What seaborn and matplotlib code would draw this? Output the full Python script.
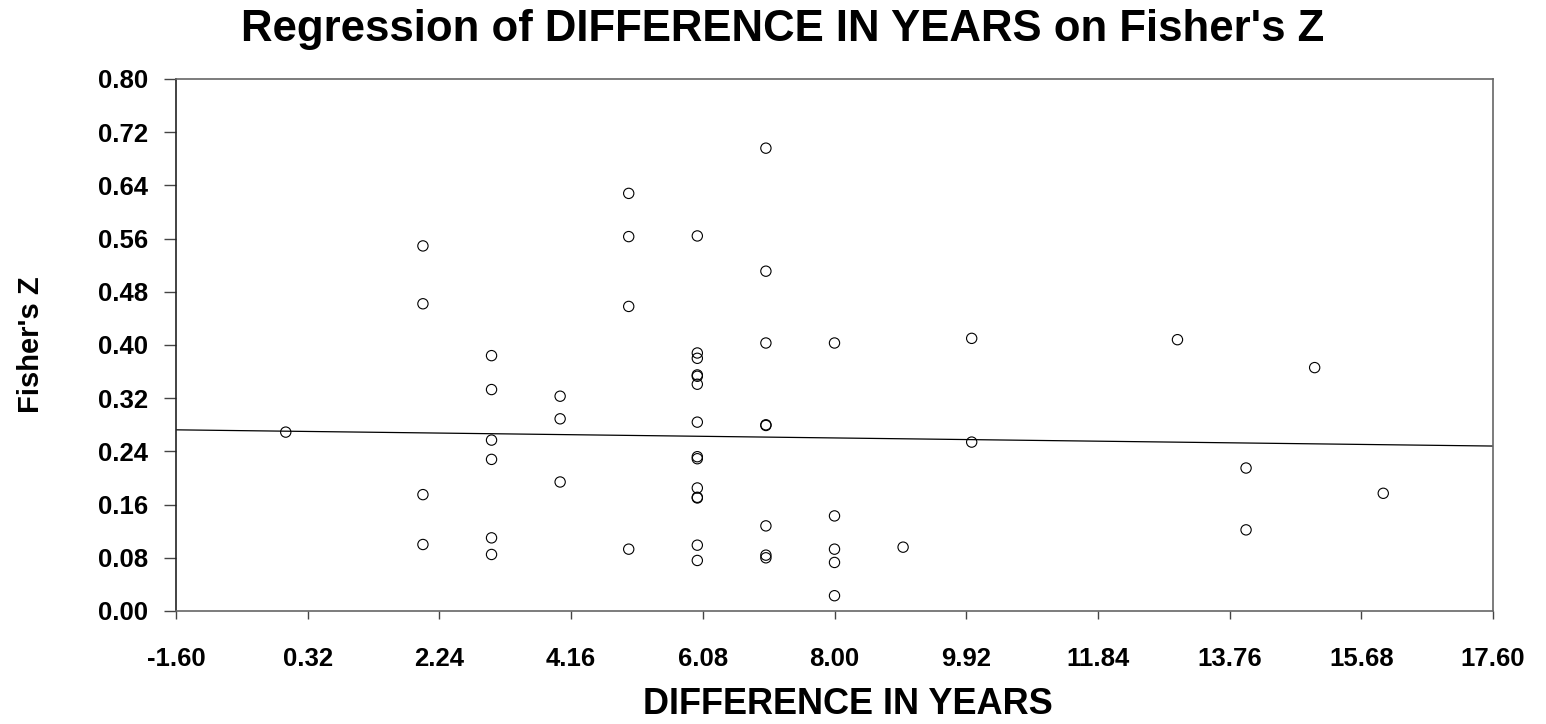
import numpy as np
import pandas as pd
import matplotlib
matplotlib.use("Agg")
import matplotlib.pyplot as plt
import seaborn as sns

# values (x = difference in years, y = Fisher's Z)
years = [0,
         2, 2, 2, 2,
         3, 3, 3, 3, 3, 3,
         4, 4, 4,
         5, 5, 5, 5,
         6, 6, 6, 6, 6, 6, 6, 6, 6, 6, 6, 6, 6, 6,
         7, 7, 7, 7, 7, 7, 7, 7,
         8, 8, 8, 8, 8,
         9,
         10, 10,
         13,
         14, 14,
         15,
         16]
fisher_z = [0.269,
            0.549, 0.462, 0.175, 0.100,
            0.384, 0.333, 0.257, 0.228, 0.110, 0.085,
            0.323, 0.289, 0.194,
            0.628, 0.563, 0.458, 0.093,
            0.564, 0.388, 0.380, 0.355, 0.353, 0.341, 0.284, 0.232, 0.229, 0.185, 0.171, 0.170, 0.099, 0.076,
            0.696, 0.511, 0.403, 0.280, 0.279, 0.128, 0.084, 0.080,
            0.403, 0.143, 0.093, 0.073, 0.023,
            0.096,
            0.410, 0.254,
            0.408,
            0.215, 0.122,
            0.366,
            0.177]

# fitted line as shown in the reference (weighted fit)
fit_intercept = 0.2704
fit_slope = -0.00127

xticks = [-1.60, 0.32, 2.24, 4.16, 6.08, 8.00, 9.92, 11.84, 13.76, 15.68, 17.60]
yticks = [0.00, 0.08, 0.16, 0.24, 0.32, 0.40, 0.48, 0.56, 0.64, 0.72, 0.80]

df = pd.DataFrame({"years": years, "z": fisher_z})

sns.set_style("white")
plt.rcParams['font.family'] = ['Liberation Sans', 'DejaVu Sans']
plt.rcParams['font.weight'] = 'bold'
plt.rcParams['text.color'] = 'black'
plt.rcParams['axes.labelcolor'] = 'black'

fig = plt.figure(figsize=(15.46, 7.24), dpi=100)
ax = fig.add_axes([176/1546, 1 - 611/724, (1493-176)/1546, (611-79)/724])

sns.scatterplot(data=df, x="years", y="z", ax=ax, s=55, marker='o',
                facecolors='none', edgecolor='black', linewidth=0.8)
ax.axline((0, fit_intercept), slope=fit_slope, color='black', lw=0.9)

ax.set_xlim(-1.6, 17.6)
ax.set_ylim(0.0, 0.8)
ax.set_xticks(xticks)
ax.set_yticks(yticks)
ax.set_xticklabels([f"{t:.2f}" for t in xticks], fontsize=18.5, fontweight='bold')
ax.set_yticklabels([f"{t:.2f}" for t in yticks], fontsize=18.5, fontweight='bold')
ax.tick_params(axis='x', direction='out', length=6, width=1, color='#444444',
               labelcolor='black', pad=20, bottom=True)
ax.tick_params(axis='y', direction='out', length=9, width=1, color='#444444',
               labelcolor='black', pad=11, left=True)

for side in ['top', 'bottom', 'right']:
    ax.spines[side].set_color('#666666')
    ax.spines[side].set_linewidth(1.2)
ax.spines['left'].set_color('#222222')
ax.spines['left'].set_linewidth(1.2)

ax.set_xlabel("")
ax.set_ylabel("")
fig.text(848/1546, 1 - 704/724, "DIFFERENCE IN YEARS",
         ha='center', va='center', fontsize=26, fontweight='bold')
fig.text(31/1546, 1 - 345/724, "Fisher's Z", rotation=90,
         ha='center', va='center', fontsize=21, fontweight='bold')

fig.text(783/1546, 1 - 29/724, "Regression of DIFFERENCE IN YEARS on Fisher's Z",
         ha='center', va='center', fontsize=31.5, fontweight='bold')

fig.savefig("out.png", dpi=100)
